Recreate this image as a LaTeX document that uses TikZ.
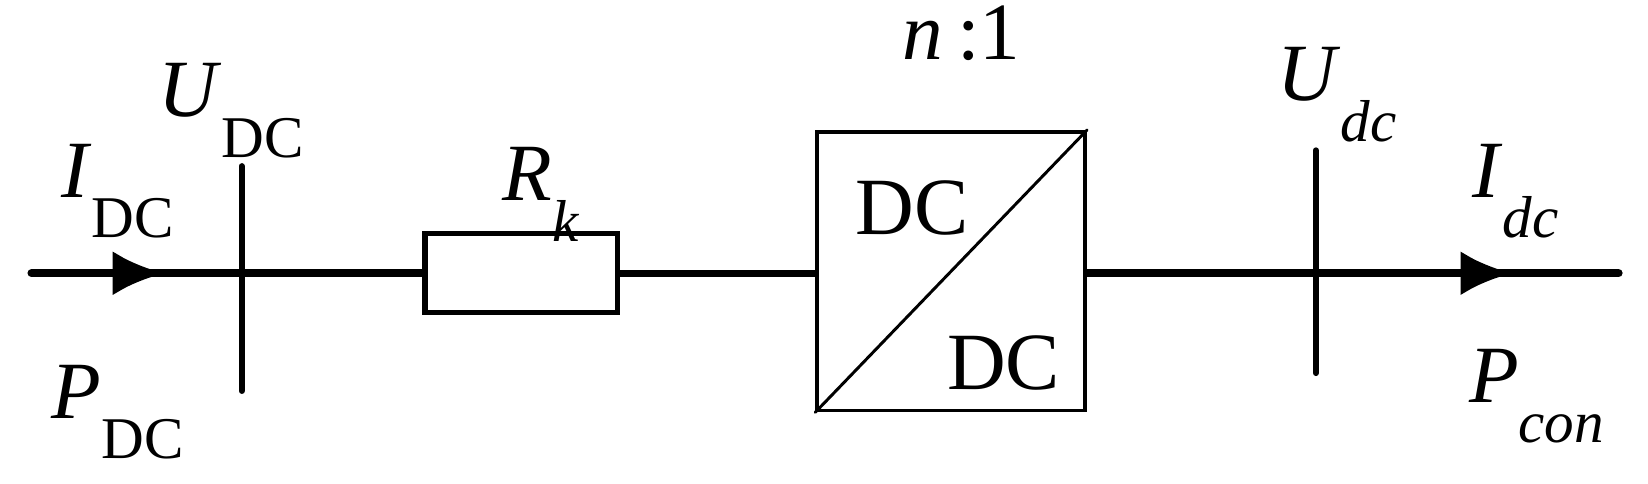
\documentclass[tikz,border=0pt]{standalone}
\usepackage{fontspec}
\setmainfont{Liberation Serif}
\usetikzlibrary{arrows.meta,decorations.markings}
\newcommand{\lbl}[2]{\textit{#1}\raisebox{-0.5em}{\fontsize{16}{16}\selectfont #2}}

\begin{document}
\begin{tikzpicture}[x=0.01cm, y=-0.01cm, line cap=round,
    bus/.style={line width=2.2pt},
    bar/.style={line width=1.6pt},
    txt/.style={font=\fontsize{22}{22}\selectfont, inner sep=0pt},
    flow/.style={bus, decoration={markings, mark=at position #1 with {\arrow{Latex[length=14pt,width=12pt]}}}, postaction={decorate}}]

    \useasboundingbox (0,0) rectangle (1568,460);

    % resistor and converter
    \node[draw, line width=1.4pt, minimum width=1.83cm, minimum height=0.75cm, inner sep=0pt] (rk) at (496,260) {};
    \node[draw, line width=1pt, minimum width=2.55cm, minimum height=2.65cm, inner sep=0pt] (conv) at (905,258) {};
    \draw[line width=0.8pt] (conv.south west) -- (conv.north east);

    \coordinate (lin) at (30,260);
    \coordinate (lout) at (1540,260);

    % buses
    \draw[flow=0.34] (lin) -- (rk.west);
    \draw[line width=1.8pt] (rk.east) -- (conv.west |- rk.east);
    \draw[flow=0.8] (conv.east |- lout) -- (lout);

    % measurement points
    \coordinate (b1t) at (230,158);
    \coordinate (b1b) at (230,372);
    \coordinate (b2t) at (1252,143);
    \coordinate (b2b) at (1252,355);
    \draw[bar] (b1t) -- (b1b);
    \draw[bar] (b2t) -- (b2b);

    % labels
    \node[txt] (idc) at (112,182) {\lbl{I}{DC}};
    \node[txt] (udc) at (220,105) {\lbl{U}{DC}};
    \node[txt] (pdc) at (112,392) {\lbl{P}{DC}};
    \node[txt] (rl) at (515,185) {\lbl{R}{\textit{k}}};
    \node[txt] (ratio) at (915,32) {\textit{n}\,:1};
    \node[txt] (dca) at (868,198) {DC};
    \node[txt] (dcb) at (955,345) {DC};
    \node[txt] (uout) at (1272,90) {\lbl{U}{\textit{dc}}};
    \node[txt] (iout) at (1442,182) {\lbl{I}{\textit{dc}}};
    \node[txt] (pout) at (1462,377) {\lbl{P}{\textit{con}}};

\end{tikzpicture}
\end{document}
